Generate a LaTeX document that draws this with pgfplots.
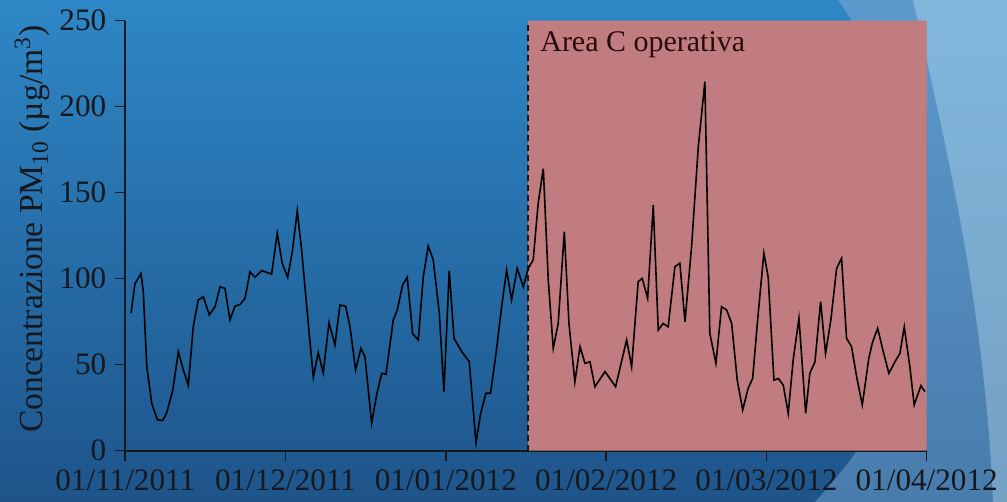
\documentclass[border=0pt]{standalone}
\usepackage{fontspec}
\setmainfont{Liberation Serif}
\usepackage{pgfplots}
\pgfplotsset{compat=1.18}
\usepackage{pgfplotstable}
\definecolor{bgtop}{RGB}{46,135,198}
\definecolor{bgbot}{RGB}{30,84,138}
\definecolor{midtop}{RGB}{92,154,206}
\definecolor{midbot}{RGB}{72,124,172}
\definecolor{lighttop}{RGB}{130,183,220}
\definecolor{lightbot}{RGB}{116,160,196}
\definecolor{areac}{RGB}{192,124,126}
\definecolor{ink}{RGB}{22,24,30}

\pgfplotstableread{
x v
0.036 80
0.060 97
0.098 103
0.112 93
0.134 49
0.165 27.5
0.200 18
0.233 17.5
0.258 22
0.296 35
0.331 57.6
0.362 47
0.393 38
0.424 72
0.455 87.6
0.487 89.5
0.524 79
0.560 83.7
0.591 95.3
0.622 94.4
0.653 76
0.684 84
0.716 85
0.747 88.6
0.778 104
0.809 100.8
0.851 104.7
0.913 102.7
0.948 126.4
0.979 109
1.013 100.8
1.042 115.7
1.073 139.5
1.100 116.7
1.132 83.7
1.173 42.7
1.204 57
1.235 45.3
1.271 74.4
1.308 61.5
1.339 84.7
1.375 84
1.402 72
1.437 47
1.470 59.5
1.495 54.7
1.537 16
1.568 32.4
1.600 45
1.626 44.4
1.672 76
1.697 81.8
1.730 96.3
1.759 100.8
1.793 68
1.828 64.4
1.859 101
1.890 119
1.921 111
1.959 80
1.988 34.3
2.021 104.7
2.051 65.3
2.099 57.6
2.146 51.7
2.188 4.7
2.217 21.7
2.250 33.4
2.279 33.4
2.313 56.6
2.348 83.7
2.379 105
2.410 87.6
2.445 106
2.483 95.3
2.514 106
2.545 111
2.576 143.8
2.608 164
2.639 99
2.670 59.5
2.701 74
2.739 127.3
2.768 74
2.805 40
2.837 60.5
2.868 50.8
2.899 51.7
2.930 37.2
2.993 46
3.059 37.2
3.128 64.4
3.159 48.8
3.200 98.3
3.225 100.2
3.259 88.6
3.294 142.8
3.325 70.2
3.356 74
3.387 72
3.429 107
3.460 109
3.492 75
3.533 118.6
3.575 176.7
3.616 214.5
3.647 68.2
3.685 50.8
3.720 83.7
3.752 81.8
3.783 74
3.818 41
3.852 23.7
3.886 36.3
3.914 42
3.949 80
3.984 114.8
4.011 101
4.047 41
4.074 42
4.105 38.2
4.136 21.7
4.167 52.7
4.203 77
4.245 21.7
4.271 45
4.303 51.7
4.338 86.6
4.369 56.6
4.402 76
4.438 106
4.469 111.9
4.500 65.3
4.531 60.5
4.563 43
4.598 26.6
4.639 53.7
4.660 62.4
4.694 71.2
4.729 57.6
4.764 45
4.802 51.7
4.833 56.6
4.860 72
4.895 48.8
4.922 26.6
4.964 37.8
4.989 34.3
}\pmdata

\begin{document}
\begin{tikzpicture}
% background (pixel coordinates of the reference)
\begin{scope}[x=0.5pt,y=-0.5pt,shift={(-125.3,-450.7)}]
\useasboundingbox (0,0) rectangle (1007,502);
\shade[top color=bgtop,bottom color=bgbot] (0,0) rectangle (1007,502);
\shade[top color=midtop,bottom color=midbot]
  (838,0) .. controls (900,90) and (960,230) .. (900,380)
  .. controls (870,440) and (835,480) .. (815,502) -- (1007,502) -- (1007,0) -- cycle;
\shade[top color=lighttop,bottom color=lightbot]
  (913,0) .. controls (940,120) and (985,300) .. (993,502) -- (1007,502) -- (1007,0) -- cycle;
\end{scope}
\begin{axis}[
  at={(0,0)}, anchor=south west,
  scale only axis, width=400.7pt, height=215pt,
  xmin=0, xmax=5, ymin=0, ymax=250,
  axis x line*=bottom, axis y line*=left,
  axis line style={ink, line width=1pt},
  every tick/.style={ink, line width=0.8pt},
  tick align=outside, major tick length=5pt,
  xtick={0,1,2,3,4,5},
  xticklabels={01/11/2011,01/12/2011,01/01/2012,01/02/2012,01/03/2012,01/04/2012},
  ytick={0,50,100,150,200,250},
  /pgf/number format/assume math mode=true,
  tick label style={font=\fontsize{15.6}{18}\selectfont, text=ink},
  xticklabel style={yshift=-1pt},
  yticklabel style={xshift=-1pt},
  ylabel={Concentrazione PM\textsubscript{10} (µg/m\textsuperscript{3})},
  ylabel style={at={(axis description cs:-0.116,0.515)}, anchor=center, font=\fontsize{16.8}{19}\selectfont, text=ink},
  clip=false,
]
\addplot[fill=areac, draw=none] coordinates {(2.514,0) (2.514,250) (5,250) (5,0)} \closedcycle;
\addplot[ink, densely dashed, line width=0.8pt] coordinates {(2.514,0) (2.514,250)};
\addplot[black, line width=0.8pt, mark=none] table[x=x,y=v] {\pmdata};
\node[anchor=base west, font=\fontsize{15}{18}\selectfont, text=ink!80!red!60!black, inner sep=0pt] at (axis cs:2.587,232) {Area C operativa};
\end{axis}
\end{tikzpicture}
\end{document}
